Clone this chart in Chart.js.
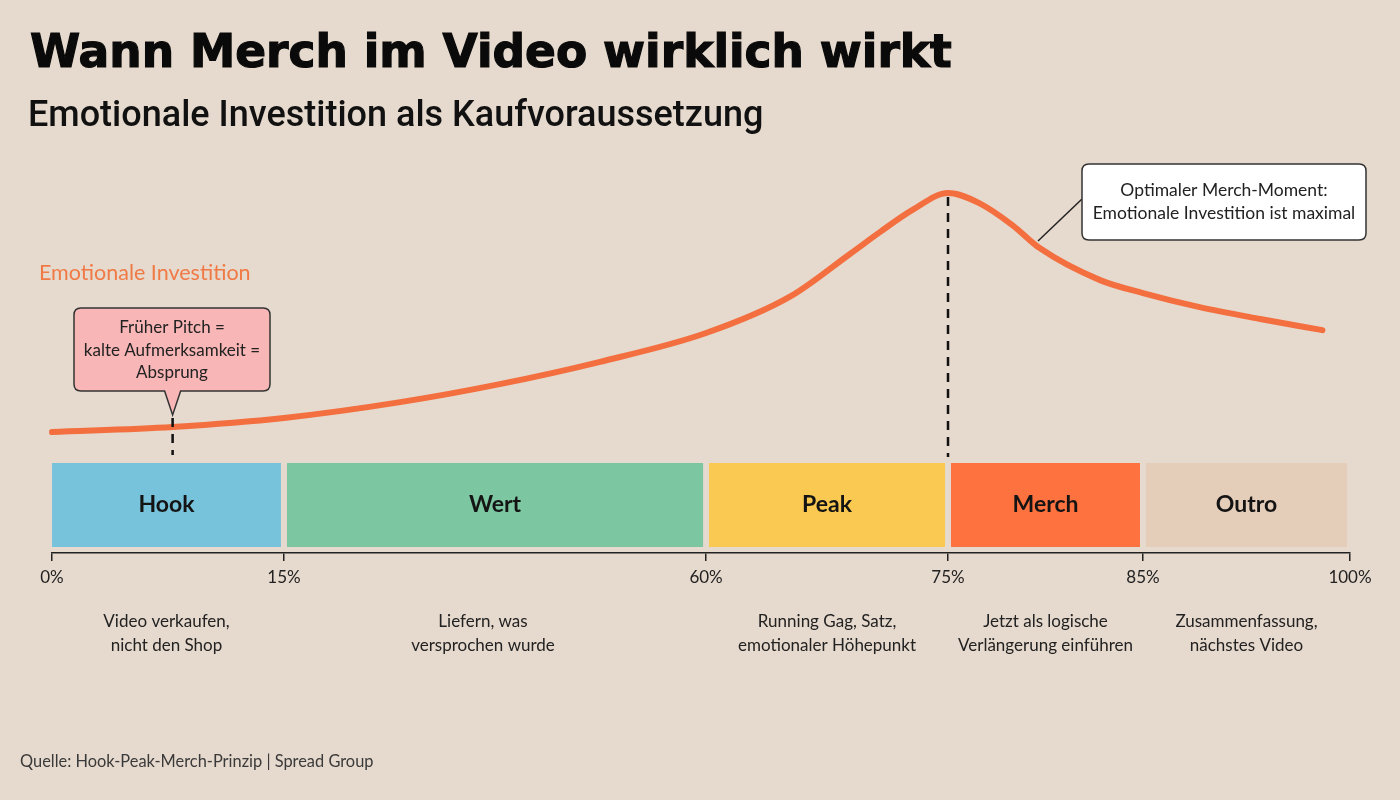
<!DOCTYPE html>
<html lang="de">
<head>
<meta charset="utf-8">
<title>Wann Merch im Video wirklich wirkt</title>
<script src="https://cdn.jsdelivr.net/npm/chart.js@4.4.1/dist/chart.umd.min.js"></script>
<style>
    html, body { margin: 0; padding: 0; }
    body { width: 1400px; height: 800px; background: #e6d9cd; position: relative; overflow: hidden; }
    #chart { position: absolute; left: 0; top: 0; }
    h1 {
        position: absolute; left: 30px; top: 25px; margin: 0;
        font-family: "DejaVu Sans", sans-serif; font-weight: 900; font-size: 45.5px;
        color: #0a0a0a; -webkit-text-stroke: 1.2px #0a0a0a; white-space: nowrap;
    }
    h2 {
        position: absolute; left: 28px; top: 93px; margin: 0;
        font-family: Roboto, sans-serif; font-weight: 500; font-size: 36px;
        color: #111; white-space: nowrap;
    }
    .quelle {
        position: absolute; left: 20px; top: 751px; margin: 0;
        font-family: Lato, sans-serif; font-size: 16.4px; color: #3a3a3a; white-space: nowrap;
    }
</style>
</head>
<body>
<canvas id="chart" width="1400" height="800"></canvas>
<h1 id="titel">Wann Merch im Video wirklich wirkt</h1>
<h2>Emotionale Investition als Kaufvoraussetzung</h2>
<p class="quelle">Quelle: Hook-Peak-Merch-Prinzip | Spread Group</p>
<script>
document.addEventListener('DOMContentLoaded', () => {

    // Daten
    const PHASEN = ["Hook", "Wert", "Peak", "Merch", "Outro"];
    const PHASEN_START = [0, 15, 60, 75, 85];
    const PHASEN_ENDE = [15, 60, 75, 85, 100];
    const PHASEN_TEXT = [
        ["Video verkaufen,", "nicht den Shop"],
        ["Liefern, was", "versprochen wurde"],
        ["Running Gag, Satz,", "emotionaler Höhepunkt"],
        ["Jetzt als logische", "Verlängerung einführen"],
        ["Zusammenfassung,", "nächstes Video"]
    ];
    const PHASEN_FARBEN = ["#78c3dc", "#7cc7a2", "#f9c951", "#fe7240", "#e4cdb9"];

    const TICKS = [0, 15, 60, 75, 85, 100];

    const KURVE_X = [0, 7.8, 15, 27.4, 38, 48.7, 60, 65.2, 68.9, 70.8, 72.8, 75, 76.6, 78.3, 79.7, 82.8, 85, 89.1, 93.5, 98];
    const KURVE_Y = [33.6, 35, 37.5, 41.9, 46.9, 53.1, 61.1, 71.2, 83.0, 89.2, 95.3, 100, 97.2, 91.1, 84.7, 75.8, 72.2, 68.3, 65, 61.9];

    const PITCH_X = 7.8;
    const PEAK_X = 75;

    // Breite der Abschnitte auf der Achse (Anteil der Achsenlänge)
    const ACHSEN_ANTEIL = [0, 0.1787, 0.5039, 0.6903, 0.8405, 1];

    class PhasenScale extends Chart.LinearScale {
        getPixelForValue(value) {
            let i = 0;
            while (i < TICKS.length - 2 && value > TICKS[i + 1]) i++;
            const t = (value - TICKS[i]) / (TICKS[i + 1] - TICKS[i]);
            const dec = ACHSEN_ANTEIL[i] + t * (ACHSEN_ANTEIL[i + 1] - ACHSEN_ANTEIL[i]);
            return this.getPixelForDecimal(dec);
        }
        getValueForPixel(pixel) {
            const dec = this.getDecimalForPixel(pixel);
            let i = 0;
            while (i < ACHSEN_ANTEIL.length - 2 && dec > ACHSEN_ANTEIL[i + 1]) i++;
            const t = (dec - ACHSEN_ANTEIL[i]) / (ACHSEN_ANTEIL[i + 1] - ACHSEN_ANTEIL[i]);
            return TICKS[i] + t * (TICKS[i + 1] - TICKS[i]);
        }
    }
    PhasenScale.id = 'phasen';
    PhasenScale.defaults = Chart.LinearScale.defaults;
    Chart.register(PhasenScale);

    const FONT = "Lato, 'Noto Sans', sans-serif";

    function roundRect(ctx, x, y, w, h, r) {
        ctx.beginPath();
        ctx.moveTo(x + r, y);
        ctx.lineTo(x + w - r, y);
        ctx.quadraticCurveTo(x + w, y, x + w, y + r);
        ctx.lineTo(x + w, y + h - r);
        ctx.quadraticCurveTo(x + w, y + h, x + w - r, y + h);
        ctx.lineTo(x + r, y + h);
        ctx.quadraticCurveTo(x, y + h, x, y + h - r);
        ctx.lineTo(x, y + r);
        ctx.quadraticCurveTo(x, y, x + r, y);
        ctx.closePath();
    }

    const phasenPlugin = {
        id: 'phasen',
        beforeDatasetsDraw(chart) {
            const { ctx, chartArea, scales: { x } } = chart;
            const unten = chartArea.bottom;
            ctx.save();
            PHASEN.forEach((name, i) => {
                const x1 = x.getPixelForValue(PHASEN_START[i]) + (i > 0 ? 3 : 0);
                const x2 = x.getPixelForValue(PHASEN_ENDE[i]) - 3;
                ctx.fillStyle = PHASEN_FARBEN[i];
                ctx.fillRect(x1, unten - 90, x2 - x1, 84);

                const mitte = (x1 + x2) / 2;
                ctx.fillStyle = "#141414";
                ctx.textAlign = "center";
                ctx.textBaseline = "middle";
                ctx.font = `bold 23px ${FONT}`;
                ctx.fillText(name, mitte, unten - 48);

                const textMitte = i === 1 ? mitte - 12 : mitte;
                ctx.font = `17px ${FONT}`;
                ctx.fillStyle = "#222";
                ctx.fillText(PHASEN_TEXT[i][0], textMitte, unten + 69);
                ctx.fillText(PHASEN_TEXT[i][1], textMitte, unten + 93);
            });
            ctx.restore();
        },
        afterDatasetsDraw(chart) {
            const { ctx, chartArea, scales: { x, y } } = chart;
            const unten = chartArea.bottom;
            ctx.save();

            // gestrichelte Linien
            ctx.strokeStyle = "#111";
            ctx.lineWidth = 2.5;
            ctx.setLineDash([9, 7]);
            const px = x.getPixelForValue(PITCH_X);
            ctx.beginPath();
            ctx.moveTo(px, 418);
            ctx.lineTo(px, unten - 98);
            ctx.stroke();
            const pk = x.getPixelForValue(PEAK_X);
            ctx.beginPath();
            ctx.moveTo(pk, y.getPixelForValue(100) + 4);
            ctx.lineTo(pk, unten - 96);
            ctx.stroke();
            ctx.setLineDash([]);

            // Reihen-Beschriftung
            ctx.fillStyle = "#f07a45";
            ctx.font = `21.5px ${FONT}`;
            ctx.textAlign = "left";
            ctx.textBaseline = "middle";
            ctx.fillText("Emotionale Investition", 39, 273);

            // Sprechblase früher Pitch
            ctx.lineWidth = 1.5;
            ctx.strokeStyle = "#333";
            ctx.fillStyle = "#f9b6b6";
            const bx = 74, by = 308, bw = 196, bh = 83, r = 7;
            ctx.beginPath();
            ctx.moveTo(bx + r, by);
            ctx.lineTo(bx + bw - r, by);
            ctx.quadraticCurveTo(bx + bw, by, bx + bw, by + r);
            ctx.lineTo(bx + bw, by + bh - r);
            ctx.quadraticCurveTo(bx + bw, by + bh, bx + bw - r, by + bh);
            ctx.lineTo(px + 8, by + bh);
            ctx.lineTo(px, by + bh + 24);
            ctx.lineTo(px - 8, by + bh);
            ctx.lineTo(bx + r, by + bh);
            ctx.quadraticCurveTo(bx, by + bh, bx, by + bh - r);
            ctx.lineTo(bx, by + r);
            ctx.quadraticCurveTo(bx, by, bx + r, by);
            ctx.closePath();
            ctx.fill();
            ctx.stroke();

            ctx.fillStyle = "#222";
            ctx.font = `17px ${FONT}`;
            ctx.textAlign = "center";
            const bm = bx + bw / 2;
            ctx.fillText("Früher Pitch =", bm, 328);
            ctx.fillText("kalte Aufmerksamkeit =", bm, 351);
            ctx.fillText("Absprung", bm, 373);

            // Hinweis Merch-Moment
            ctx.strokeStyle = "#222";
            ctx.lineWidth = 1.5;
            ctx.beginPath();
            ctx.moveTo(1038, 241);
            ctx.lineTo(1082, 199);
            ctx.stroke();

            roundRect(ctx, 1082, 164, 284, 76, 7);
            ctx.fillStyle = "#ffffff";
            ctx.fill();
            ctx.strokeStyle = "#333";
            ctx.stroke();
            ctx.fillStyle = "#222";
            ctx.font = `17.5px ${FONT}`;
            ctx.fillText("Optimaler Merch-Moment:", 1224, 190);
            ctx.fillText("Emotionale Investition ist maximal", 1224, 213);

            ctx.restore();
        }
    };

    const ctx = document.getElementById("chart").getContext("2d");

    new Chart(ctx, {
        type: "line",
        data: {
            datasets: [{
                label: "Emotionale Investition",
                data: KURVE_X.map((v, i) => ({ x: v, y: KURVE_Y[i] })),
                borderColor: "#f36f3f",
                borderWidth: 6,
                pointRadius: 0,
                cubicInterpolationMode: "monotone",
                borderCapStyle: "round",
                borderJoinStyle: "round",
                fill: false,
                clip: false
            }]
        },
        options: {
            responsive: false,
            animation: false,
            events: [],
            layout: { padding: { left: 52, right: 50, top: 193, bottom: 0 } },
            plugins: {
                legend: { display: false },
                tooltip: { enabled: false },
                title: { display: false }
            },
            scales: {
                x: {
                    type: "phasen",
                    min: 0,
                    max: 100,
                    afterBuildTicks: scale => {
                        scale.ticks = TICKS.map(v => ({ value: v }));
                    },
                    afterFit: scale => { scale.height = 247; },
                    grid: {
                        drawOnChartArea: false,
                        drawTicks: true,
                        tickLength: 8,
                        color: "#222",
                        lineWidth: 1.5
                    },
                    border: { display: true, color: "#222", width: 1.5 },
                    ticks: {
                        autoSkip: false,
                        maxRotation: 0,
                        padding: 6,
                        color: "#222",
                        font: { family: FONT, size: 17 },
                        callback: v => `${v}%`
                    }
                },
                y: {
                    display: false,
                    min: 0,
                    max: 100
                }
            }
        },
        plugins: [phasenPlugin]
    });

});
</script>
</body>
</html>
